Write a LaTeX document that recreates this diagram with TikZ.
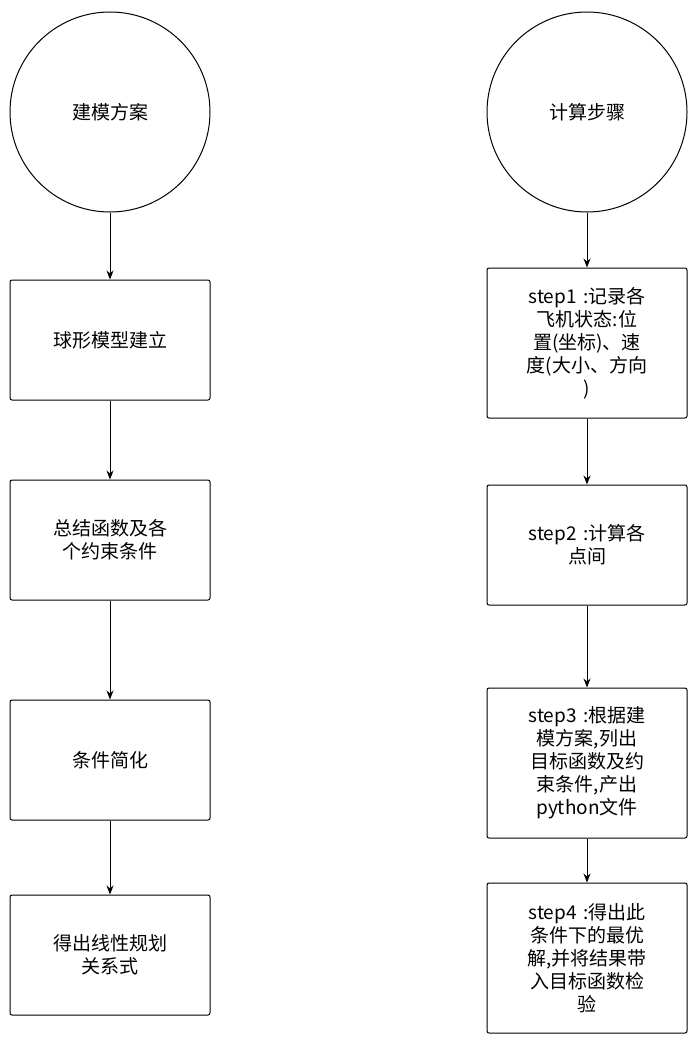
\documentclass[tikz,border=0pt]{standalone}
\usepackage{fontspec}
\setmainfont{Noto Sans CJK SC}
\usetikzlibrary{arrows.meta}
\begin{document}
\begin{tikzpicture}[x=1pt,y=-1pt,
  circ/.style={draw,circle,minimum size=200pt,line width=1pt,font=\fontsize{19}{23}\selectfont},
  box/.style={draw,rounded corners=2pt,minimum width=200pt,line width=1pt,align=center,text width=160pt,font=\fontsize{19}{23}\selectfont},
  arr/.style={-{Stealth[length=9pt,width=7pt]},line width=1pt}]
\useasboundingbox (0,0) rectangle (696,1043);
\node[circ] (c1) at (110,112) {建模方案};
\node[box,minimum height=120pt] (l1) at (110,340) {球形模型建立};
\node[box,minimum height=120pt] (l2) at (110,540) {总结函数及各\\个约束条件};
\node[box,minimum height=120pt] (l3) at (110,760) {条件简化};
\node[box,minimum height=120pt] (l4) at (110,955) {得出线性规划\\关系式};
\draw[arr] (c1) -- (l1); \draw[arr] (l1) -- (l2); \draw[arr] (l2) -- (l3); \draw[arr] (l3) -- (l4);
\node[circ] (c2) at (587,112) {计算步骤};
\node[box,minimum height=150pt] (r1) at (587,343) {step1 :记录各\\飞机状态:位\\置(坐标)、速\\度(大小、方向\\)};
\node[box,minimum height=120pt] (r2) at (587,545) {step2 :计算各\\点间};
\node[box,minimum height=150pt] (r3) at (587,763) {step3 :根据建\\模方案,列出\\目标函数及约\\束条件,产出\\python文件};
\node[box,minimum height=150pt] (r4) at (587,958) {step4 :得出此\\条件下的最优\\解,并将结果带\\入目标函数检\\验};
\draw[arr] (c2) -- (r1); \draw[arr] (r1) -- (r2); \draw[arr] (r2) -- (r3); \draw[arr] (r3) -- (r4);
\end{tikzpicture}
\end{document}
